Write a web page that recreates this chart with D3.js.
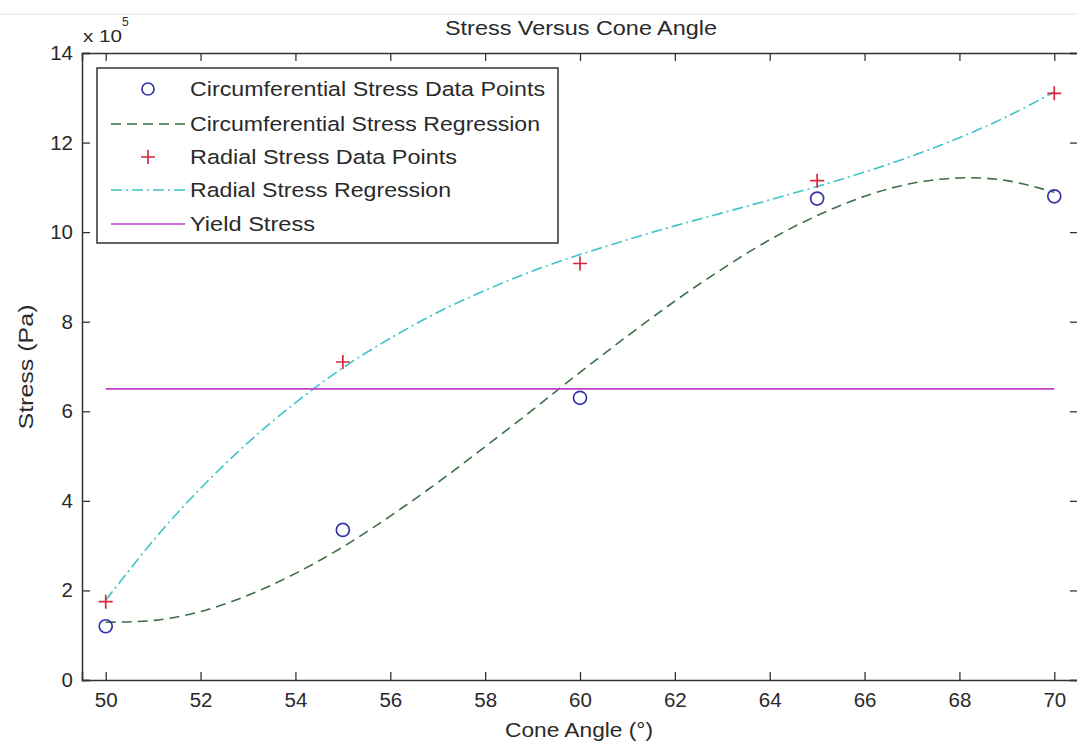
<!DOCTYPE html>
<html><head><meta charset="utf-8">
<script src="https://cdn.jsdelivr.net/npm/d3@7"></script>
<style>body{margin:0;background:#fff}svg{display:block;font-family:"Liberation Sans",Arial,sans-serif}</style>
</head><body><svg id="c" width="1077" height="743"></svg>
<script>
// ---- data ----
const angles = [50, 55, 60, 65, 70];
const circStress = [1.2, 3.35, 6.3, 10.75, 10.8];
const radialStress = [1.75, 7.1, 9.3, 11.15, 13.1];
const yieldStress = 6.5;
const regAngles = [50,51,52,53,54,55,56,57,58,59,60,61,62,63,64,65,66,67,68,69,70];
const circRegression = [1.29,1.33,1.53,1.89,2.38,2.97,3.66,4.41,5.21,6.03,6.87,7.68,8.46,9.18,9.83,10.37,10.80,11.09,11.21,11.15,10.89];
const radialRegression = [1.78,3.11,4.28,5.30,6.19,6.97,7.63,8.21,8.70,9.13,9.50,9.83,10.14,10.43,10.72,11.02,11.34,11.70,12.11,12.58,13.13];
const xTicks = [50,52,54,56,58,60,62,64,66,68,70];
const yTicks = [0,2,4,6,8,10,12,14];
const legendLabels = ["Circumferential Stress Data Points","Circumferential Stress Regression","Radial Stress Data Points","Radial Stress Regression","Yield Stress"];

const svg = d3.select("#c");
const L=82, R=1078, T=53, B=680;
const x = d3.scaleLinear().domain([49.5,70.5]).range([L,R]);
const y = d3.scaleLinear().domain([0,14]).range([B,T]);
const txt="#2a2a2a";
const FONT="Liberation Sans, Arial, sans-serif";
const fit=(sel,w)=>sel.attr("textLength",w).attr("lengthAdjust","spacingAndGlyphs");

svg.append("line").attr("x1",0).attr("x2",1077).attr("y1",14).attr("y2",14).attr("stroke","#e4e4e4");

// axes
const xb = svg.append("g").attr("transform",`translate(0,${B})`).call(d3.axisBottom(x).tickValues(xTicks).tickSize(-8).tickPadding(12));
const xt = svg.append("g").attr("transform",`translate(0,${T})`).call(d3.axisTop(x).tickValues(xTicks).tickSize(-8).tickFormat(""));
const yl = svg.append("g").attr("transform",`translate(${L},0)`).call(d3.axisLeft(y).tickValues(yTicks).tickSize(-8).tickPadding(9));
const yr = svg.append("g").attr("transform",`translate(${R},0)`).call(d3.axisRight(y).tickValues(yTicks).tickSize(-8).tickFormat(""));
[xb,xt,yl,yr].forEach(g=>{
  g.select(".domain").attr("stroke","#333").attr("stroke-width",1.5);
  g.selectAll(".tick line").attr("stroke","#333").attr("stroke-width",1.3);
  g.selectAll("text").attr("fill",txt).attr("font-size",20.5).attr("font-family",FONT);
});

// curves
const line = d3.line().x(d=>x(d[0])).y(d=>y(d[1])).curve(d3.curveNatural);
svg.append("path").datum(regAngles.map((a,i)=>[a,circRegression[i]])).attr("d",line)
  .attr("fill","none").attr("stroke","#3d6e45").attr("stroke-width",1.6).attr("stroke-dasharray","10,6");
svg.append("path").datum(regAngles.map((a,i)=>[a,radialRegression[i]])).attr("d",line)
  .attr("fill","none").attr("stroke","#3cc4c8").attr("stroke-width",1.6).attr("stroke-dasharray","11,4,2,4");
svg.append("line").attr("x1",x(50)).attr("x2",x(70)).attr("y1",y(yieldStress)).attr("y2",y(yieldStress))
  .attr("stroke","#c040c8").attr("stroke-width",1.6);

// markers
svg.selectAll(".circ").data(angles).join("circle").attr("cx",d=>x(d)).attr("cy",(d,i)=>y(circStress[i]))
  .attr("r",6.5).attr("fill","none").attr("stroke","#3434a8").attr("stroke-width",1.7);
const plus=(g,cx,cy)=>{g.append("path").attr("d",`M${cx-7},${cy}H${cx+7}M${cx},${cy-7}V${cy+7}`).attr("stroke","#d8283c").attr("stroke-width",1.7).attr("fill","none");};
radialStress.forEach((v,i)=>plus(svg,x(angles[i]),y(v)));

// legend
const lg=svg.append("g");
lg.append("rect").attr("x",97).attr("y",68).attr("width",461).attr("height",175).attr("fill","#fff").attr("stroke","#333").attr("stroke-width",1.5);
const rows=[89,124,157,190,224];
const legendW=[355,350,267,261,125];
lg.append("circle").attr("cx",148).attr("cy",rows[0]).attr("r",6).attr("fill","none").attr("stroke","#3434a8").attr("stroke-width",1.7);
lg.append("line").attr("x1",111).attr("x2",185).attr("y1",rows[1]).attr("y2",rows[1]).attr("stroke","#3d6e45").attr("stroke-width",1.6).attr("stroke-dasharray","10,6");
plus(lg,148,rows[2]);
lg.append("line").attr("x1",111).attr("x2",185).attr("y1",rows[3]).attr("y2",rows[3]).attr("stroke","#3cc4c8").attr("stroke-width",1.6).attr("stroke-dasharray","11,4,2,4");
lg.append("line").attr("x1",111).attr("x2",185).attr("y1",rows[4]).attr("y2",rows[4]).attr("stroke","#c040c8").attr("stroke-width",1.6);
legendLabels.forEach((t,i)=>fit(lg.append("text").attr("x",190).attr("y",rows[i]).attr("dy","0.36em").attr("font-size",20.5).attr("fill",txt).text(t),legendW[i]));

// titles
fit(svg.append("text").attr("x",581).attr("y",35).attr("text-anchor","middle").attr("font-size",21).attr("fill",txt).text("Stress Versus Cone Angle"),272);
fit(svg.append("text").attr("x",579).attr("y",737).attr("text-anchor","middle").attr("font-size",20.5).attr("fill",txt).text("Cone Angle (°)"),148);
fit(svg.append("text").attr("transform",`translate(33,367) rotate(-90)`).attr("text-anchor","middle").attr("font-size",20).attr("fill",txt).text("Stress (Pa)"),125);
fit(svg.append("text").attr("x",83).attr("y",42).attr("font-size",17).attr("fill",txt).text("x 10"),39);
svg.append("text").attr("x",122).attr("y",26).attr("font-size",12).attr("fill",txt).text("5");
</script></body></html>
